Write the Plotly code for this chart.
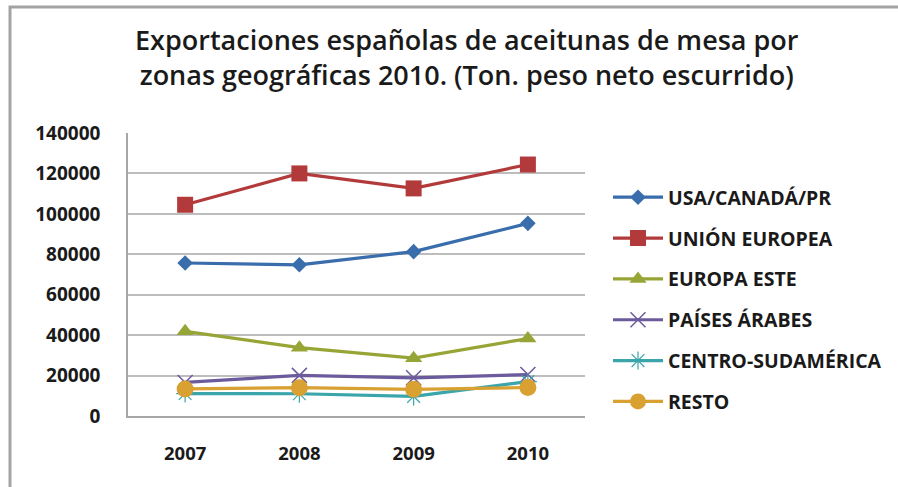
import plotly.graph_objects as go

# Exportaciones españolas de aceitunas de mesa por zona geográfica (t)
years = ["2007", "2008", "2009", "2010"]
usa_canada_pr = [75700, 74800, 81300, 95300]
union_europea = [104500, 120000, 112600, 124400]
europa_este = [41900, 33800, 28600, 38300]
paises_arabes = [16600, 20100, 18900, 20500]
centro_sudamerica = [11100, 11000, 9700, 17000]
resto = [13400, 14000, 13200, 14100]

y_ticks = [0, 20000, 40000, 60000, 80000, 100000, 120000, 140000]

series = [
    ("USA/CANADÁ/PR", usa_canada_pr, "#3A6DAB", dict(symbol="diamond", size=12)),
    ("UNIÓN EUROPEA", union_europea, "#B23A3A", dict(symbol="square", size=16)),
    ("EUROPA ESTE", europa_este, "#97A537", dict(symbol="triangle-up", size=15)),
    ("PAÍSES ÁRABES", paises_arabes, "#6B5A9C",
     dict(symbol="x-thin-open", size=15, line=dict(width=1.5, color="#6B5A9C"))),
    ("CENTRO-SUDAMÉRICA", centro_sudamerica, "#3AA5AA",
     dict(symbol="asterisk-open", size=15, line=dict(width=1.2, color="#7FC4D8"))),
    ("RESTO", resto, "#D9A032", dict(symbol="circle", size=17)),
]

FONT = "Open Sans"

fig = go.Figure()
for i, (name, vals, color, marker) in enumerate(series):
    m = dict(color=color)
    m.update(marker)
    fig.add_trace(go.Scatter(
        x=years, y=vals, name=name, mode="lines+markers",
        line=dict(color=color, width=3.2),
        marker=m,
        legendgroup=f"g{i}",
    ))

# plot area: 128..585 px horizontally, 133..416 px vertically
L, R, T, B = 128, 313, 133, 71
W, H = 898, 487
pw, ph = W - L - R, H - T - B


def px(x):
    return (x - L) / pw


def py(y):
    return (H - B - y) / ph


fig.update_layout(
    width=W, height=H,
    margin=dict(l=L, r=R, t=T, b=B, autoexpand=False),
    paper_bgcolor="white", plot_bgcolor="white",
    showlegend=True,
    legend=dict(
        x=px(608), y=py(178), xanchor="left", yanchor="top",
        font=dict(family=FONT, size=19.5, color="#1a1a1a", weight="bold"),
        itemwidth=50, tracegroupgap=12.5,
        bgcolor="rgba(0,0,0,0)",
    ),
    xaxis=dict(
        type="category", range=[-0.5, 3.5],
        showgrid=False, showline=True, linecolor="#a6a6a6", linewidth=1.5,
        ticks="outside", ticklen=20, tickcolor="rgba(0,0,0,0)",
        tickfont=dict(family=FONT, size=18.5, color="#1a1a1a", weight="bold"),
        fixedrange=True,
    ),
    yaxis=dict(
        range=[0, 140000], tickvals=y_ticks,
        ticktext=[str(v) for v in y_ticks],
        showgrid=True, gridcolor="#bdbdbd", gridwidth=1.5,
        zeroline=False, showline=True, linecolor="#a6a6a6", linewidth=1.5,
        ticks="outside", ticklen=22, tickcolor="rgba(0,0,0,0)",
        tickfont=dict(family=FONT, size=19, color="#1a1a1a", weight="bold"),
        fixedrange=True,
    ),
    shapes=[
        dict(type="rect", xref="paper", yref="paper",
             x0=px(10), x1=px(910), y0=py(500), y1=py(7),
             line=dict(color="#a3a3a3", width=3), layer="below"),
    ],
    annotations=[
        dict(
            text="Exportaciones españolas de aceitunas de mesa por<br>"
                 "zonas geográficas 2010. (Ton. peso neto escurrido)",
            xref="paper", yref="paper", x=px(467), y=py(57),
            xanchor="center", yanchor="middle", showarrow=False,
            font=dict(family=FONT, size=27, color="#1a1a1a", weight=600),
        )
    ],
)

fig.write_html("out.html")
